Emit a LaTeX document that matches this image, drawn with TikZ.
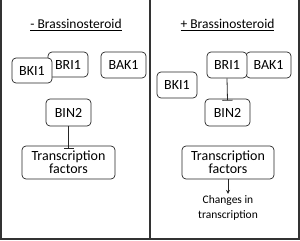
\documentclass[tikz,border=0pt]{standalone}
\usepackage{fontspec}
\setmainfont{Carlito}
\usetikzlibrary{arrows.meta}
\begin{document}
\begin{tikzpicture}[x=1pt,y=-1pt,
  box/.style={draw=black!85,line width=0.7pt,rounded corners=4pt,fill=white,inner sep=0pt,align=center,font=\fontsize{14}{14}\selectfont},
  frame/.style={draw=black!80,line width=1.6pt},
  inhib/.style={draw=black!85,line width=0.8pt,-{Bar[width=10pt,line width=0.8pt]}},
  act/.style={draw=black!85,line width=0.8pt,-{Stealth[length=4pt,width=4pt]}},
  ttl/.style={font=\fontsize{13.5}{14}\selectfont}]
\useasboundingbox (0,0) rectangle (300,241);
% frame
\draw[frame] (1,0) -- (1,239) -- (299,239) -- (299,0);
\draw[frame] (150,0) -- (150,239);
% titles
\node[ttl] (t1) at (76,25) {\underline{- Brassinosteroid}};
\node[ttl] (t2) at (227.5,25) {\underline{+ Brassinosteroid}};
% left panel
\node[box,minimum width=40pt,minimum height=25pt] (bri1L) at (68,64.5) {BRI1};
\node[box,minimum width=40pt,minimum height=25pt] (bki1L) at (32,70.5) {BKI1};
\node[box,minimum width=45pt,minimum height=26pt] (bak1L) at (123.5,65) {BAK1};
\node[box,minimum width=45pt,minimum height=27pt] (bin2L) at (68.5,112.5) {BIN2};
\node[box,minimum width=93pt,minimum height=33pt] (tfL) at (68.5,162.5) {Transcription\\[-1pt]factors};
\draw[inhib] (bin2L.south) -- ([yshift=-3pt]tfL.north);
% right panel
\node[box,minimum width=45pt,minimum height=26pt] (bak1R) at (268.5,65) {BAK1};
\node[box,minimum width=40pt,minimum height=26pt] (bri1R) at (227,65) {BRI1};
\node[box,minimum width=40pt,minimum height=26pt] (bki1R) at (177,85) {BKI1};
\node[box,minimum width=45pt,minimum height=27pt] (bin2R) at (227.5,112.5) {BIN2};
\node[box,minimum width=92pt,minimum height=33pt] (tfR) at (228,162.5) {Transcription\\[-1pt]factors};
\draw[inhib] (bri1R.south) -- ([yshift=-2pt]bin2R.north);
\node[align=center,font=\fontsize{11.5}{15}\selectfont,inner sep=1pt] (chg) at (228,207.5) {Changes in\\transcription};
\draw[act] (tfR.south) -- (chg.north);
\end{tikzpicture}
\end{document}
